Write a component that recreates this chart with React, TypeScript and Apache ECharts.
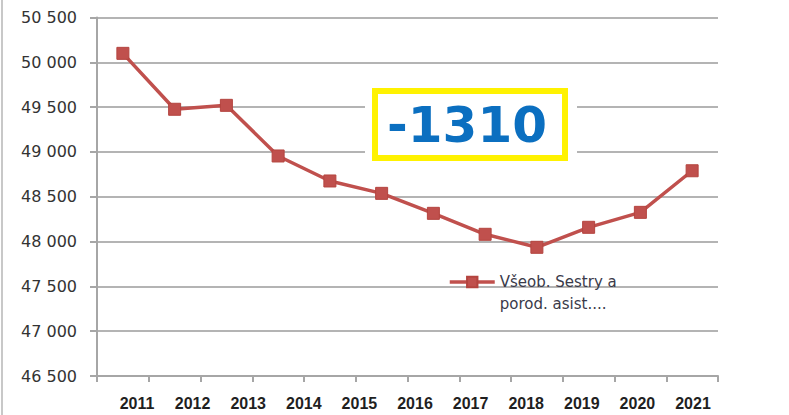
import React, { useEffect, useRef } from "react";
import * as echarts from "echarts";

const dataCategories = ["2010", "2011", "2012", "2013", "2014", "2015", "2016", "2017", "2018", "2019", "2020", "2021"];
const nurseValues = [50100, 49476, 49520, 48955, 48676, 48538, 48315, 48081, 47936, 48159, 48326, 48790];
const yearLabels = ["2011", "2012", "2013", "2014", "2015", "2016", "2017", "2018", "2019", "2020", "2021"];
const seriesName = "Všeob. Sestry a porod. asist....";
const changeText = "-1310";

export default function App() {
  const ref = useRef<HTMLDivElement>(null);
  useEffect(() => {
    if (!ref.current) return;
    const chart = echarts.init(ref.current, undefined, { renderer: "svg" });
    const fmtY = (v: number) => {
      const s = String(Math.round(v));
      return s.length > 3 ? s.slice(0, s.length - 3) + " " + s.slice(-3) : s;
    };
    chart.setOption({
      animation: false,
      backgroundColor: "#ffffff",
      grid: [
        { left: 97, right: 71, top: 17.5, bottom: 39 },
        { left: 137, right: 96, top: 17.5, bottom: 39 },
      ],
      xAxis: [
        {
          type: "category",
          gridIndex: 0,
          data: dataCategories,
          boundaryGap: true,
          axisLine: { lineStyle: { color: "#a6a6a6", width: 2 } },
          axisTick: { show: true, length: 6, interval: 0, lineStyle: { color: "#a6a6a6", width: 2 } },
          axisLabel: { show: false },
        },
        {
          type: "category",
          gridIndex: 1,
          data: yearLabels,
          boundaryGap: false,
          axisLine: { show: false },
          axisTick: { show: false },
          axisLabel: {
            show: true,
            interval: 0,
            margin: 19,
            fontFamily: "Liberation Sans",
            fontWeight: "bold",
            fontSize: 16,
            color: "#1f1f1f",
          },
        },
      ],
      yAxis: [
        {
          type: "value",
          gridIndex: 0,
          min: 46500,
          max: 50500,
          interval: 500,
          axisLine: { show: true, lineStyle: { color: "#a6a6a6", width: 2 } },
          axisTick: { show: true, length: 7, lineStyle: { color: "#a6a6a6", width: 2 } },
          splitLine: { show: true, lineStyle: { color: "#b4b4b4", width: 2 } },
          axisLabel: {
            margin: 20,
            fontFamily: "DejaVu Sans",
            fontSize: 16,
            color: "#333333",
            formatter: fmtY,
          },
        },
        {
          type: "value",
          gridIndex: 1,
          show: false,
          min: 46500,
          max: 50500,
          interval: 500,
          splitLine: { show: false },
        },
      ],
      legend: {
        show: true,
        left: 448,
        top: 249,
        padding: 0,
        itemWidth: 45,
        itemHeight: 13,
        itemGap: 4,
        data: [seriesName],
        formatter: () => " \nVšeob. Sestry a\nporod. asist....",
        lineStyle: { width: 3.5, color: "#c0504d" },
        textStyle: {
          fontFamily: "DejaVu Sans",
          fontSize: 15,
          color: "#3a3a4a",
          lineHeight: 22,
        },
      },
      series: [
        {
          name: seriesName,
          type: "line",
          xAxisIndex: 0,
          yAxisIndex: 0,
          data: nurseValues,
          symbol: "rect",
          symbolSize: 12,
          lineStyle: { color: "#c0504d", width: 3.5 },
          itemStyle: { color: "#c0504d", borderColor: "#b4443f", borderWidth: 1 },
          z: 5,
        },
      ],
      graphic: [
        {
          type: "line",
          shape: { x1: 2, y1: 0, x2: 2, y2: 415 },
          style: { stroke: "#c8c8c8", lineWidth: 2 },
        },
        {
          type: "rect",
          shape: { x: 365, y: 82, width: 212, height: 85 },
          style: { fill: "#ffffff" },
          z: 10,
        },
        {
          type: "rect",
          shape: { x: 375, y: 91, width: 190, height: 67 },
          style: { fill: "#ffffff", stroke: "#fff200", lineWidth: 6 },
          z: 11,
        },
        {
          type: "text",
          x: 467,
          y: 125,
          style: {
            text: changeText,
            fontFamily: "DejaVu Sans",
            fontWeight: "bold",
            fontSize: 50,
            fill: "#0b6fc0",
            align: "center",
            verticalAlign: "middle",
          },
          z: 12,
        },
      ],
    });
    return () => chart.dispose();
  }, []);
  return <div ref={ref} style={{ width: 789, height: 415, position: "absolute", left: 0, top: 0 }} />;
}
